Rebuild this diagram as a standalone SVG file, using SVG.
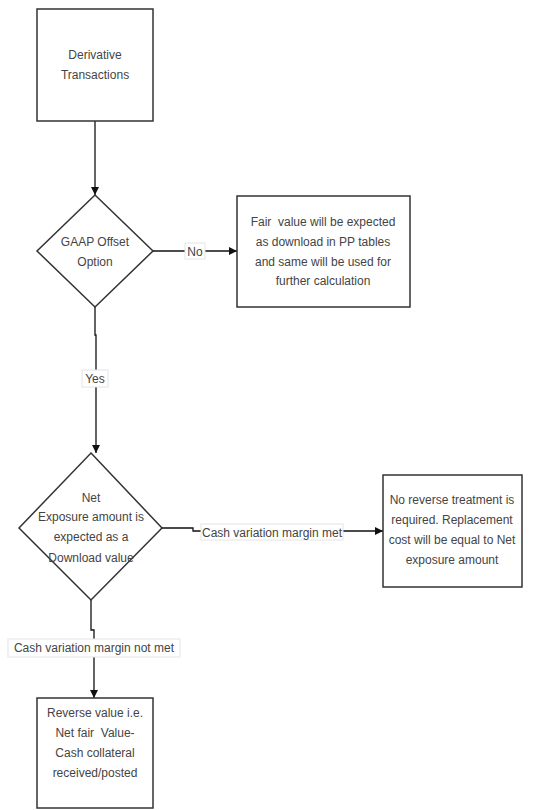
<svg xmlns="http://www.w3.org/2000/svg" width="556" height="810" viewBox="0 0 556 810">
<defs>
<marker id="ah" viewBox="0 0 10 10" refX="10" refY="5" markerWidth="8" markerHeight="8" markerUnits="userSpaceOnUse" orient="auto">
<path d="M0,0 L10,5 L0,10 z" fill="#111"/>
</marker>
<style>
.n{fill:#fff;stroke:#333;stroke-width:1.5}
.t{font-family:"Liberation Sans",Arial,sans-serif;font-size:12px;fill:#444;text-anchor:middle;white-space:pre}
.c{fill:none;stroke:#111;stroke-width:1.3}
.lb{fill:#fff;stroke:#e4e4e4;stroke-width:1}
</style>
</defs>
<rect width="556" height="810" fill="#fff"/>
<g id="connectors">
<path class="c" d="M95,121 V195" marker-end="url(#ah)"/>
<path class="c" d="M153,251 H237" marker-end="url(#ah)"/>
<path class="c" d="M95,307 V335 H96 V453" marker-end="url(#ah)"/>
<path class="c" d="M162,528 H193 V531 H383" marker-end="url(#ah)"/>
<path class="c" d="M91,600 V630 H94 V698" marker-end="url(#ah)"/>
<rect class="lb" x="185" y="243" width="20" height="16"/>
<text class="t" x="195" y="256">No</text>
<rect class="lb" x="82" y="370" width="26" height="17"/>
<text class="t" x="95" y="383">Yes</text>
<rect class="lb" x="201" y="524" width="142" height="16"/>
<text class="t" x="272" y="537">Cash variation margin met</text>
<rect class="lb" x="8" y="639" width="172" height="18"/>
<text class="t" x="94" y="652">Cash variation margin not met</text>
</g>
<g id="derivative">
<rect class="n" x="37" y="9" width="116" height="112"/>
<text class="t" x="95" y="59">Derivative</text>
<text class="t" x="95" y="79">Transactions</text>
</g>
<g id="gaap">
<polygon class="n" points="95,195 153,251 95,307 37,251"/>
<text class="t" x="95" y="246">GAAP Offset</text>
<text class="t" x="95" y="266">Option</text>
</g>
<g id="fairvalue">
<rect class="n" x="237" y="196" width="173" height="111"/>
<text class="t" x="323" y="226" xml:space="preserve">Fair  value will be expected</text>
<text class="t" x="323" y="246">as download in PP tables</text>
<text class="t" x="323" y="266">and same will be used for</text>
<text class="t" x="323" y="285">further calculation</text>
</g>
<g id="netexposure">
<polygon class="n" points="91,453 162,528 91,600 19,528"/>
<text class="t" x="91" y="502">Net</text>
<text class="t" x="91" y="521">Exposure amount is</text>
<text class="t" x="91" y="541">expected as a</text>
<text class="t" x="91" y="562">Download value</text>
</g>
<g id="noreverse">
<rect class="n" x="383" y="475" width="139" height="112"/>
<text class="t" x="452" y="504">No reverse treatment is</text>
<text class="t" x="452" y="524">required. Replacement</text>
<text class="t" x="452" y="544">cost will be equal to Net</text>
<text class="t" x="452" y="564">exposure amount</text>
</g>
<g id="reverse">
<rect class="n" x="37" y="698" width="116" height="110"/>
<text class="t" x="95" y="717">Reverse value i.e.</text>
<text class="t" x="95" y="737" xml:space="preserve">Net fair  Value-</text>
<text class="t" x="95" y="757">Cash collateral</text>
<text class="t" x="95" y="777">received/posted</text>
</g>
</svg>
